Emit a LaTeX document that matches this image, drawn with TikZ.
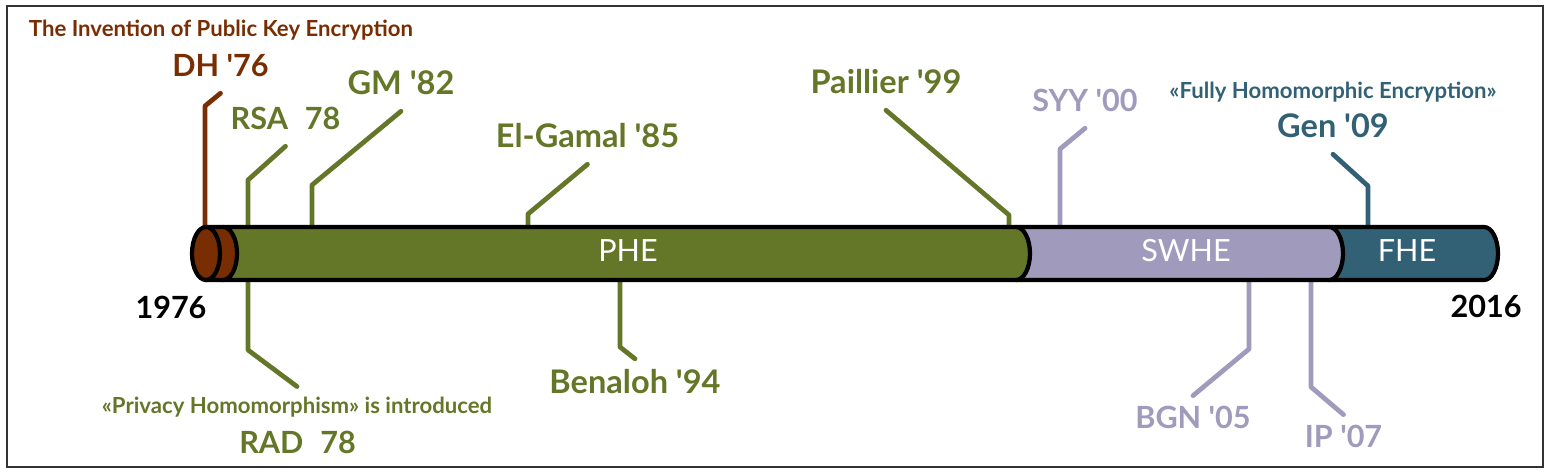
\documentclass[tikz,border=0pt]{standalone}
\usepackage{fontspec}
\setmainfont{Lato}[Ligatures=TeXOff]
\definecolor{dhbrown}{RGB}{120,46,2}
\definecolor{phegreen}{RGB}{100,118,40}
\definecolor{swhelav}{RGB}{160,154,188}
\definecolor{fheteal}{RGB}{50,97,118}
\tikzset{
  biglab/.style={font=\fontsize{8.7}{10}\selectfont\bfseries, inner sep=0pt, anchor=base},
  widelab/.style={biglab, font=\fontsize{9.25}{11}\selectfont\bfseries},
  smalllab/.style={font=\fontsize{6.3}{7.5}\selectfont\bfseries, inner sep=0pt, anchor=base},
  uplab/.style={outer sep=0.17cm},
  downlab/.style={outer sep=0.1cm},
  conn/.style={line width=1.35pt, line cap=round, line join=round},
  seg/.style={draw=black, line width=1.2pt, line join=round},
  segtext/.style={font=\fontsize{8.7}{10}\selectfont, text=white, inner sep=0pt, anchor=base},
}
% one piece of the time bar, right end rounded
\newcommand{\barseg}[3]{%
  \draw[seg, fill=#1] (#2,227) -- (#3,227)
    arc[start angle=-90, end angle=90, x radius=14, y radius=26.5] -- (#2,280) -- cycle;}
\begin{document}
\begin{tikzpicture}[x=0.01cm,y=-0.01cm]
\useasboundingbox (0,0) rectangle (1551,475);
\draw[line width=0.8pt, black!80] (7,6) rectangle (1543,467);

% labels above the bar
\node[smalllab, text=dhbrown] (pke) at (221,36) {The Invention of Public Key Encryption};
\node[biglab, uplab, text=dhbrown] (dh) at (220.5,76) {DH '76};
\node[biglab, uplab, text=phegreen] (rsa) at (285.5,129) {RSA\hspace{0.55em}78};
\node[widelab, uplab, text=phegreen] (gm) at (401,94) {GM '82};
\node[widelab, uplab, text=phegreen] (elgamal) at (587.5,147) {El-Gamal '85};
\node[widelab, uplab, text=phegreen] (paillier) at (886,93) {Paillier '99};
\node[biglab, uplab, text=swhelav] (syy) at (1085,111) {SYY '00};
\node[smalllab, text=fheteal] (fhenote) at (1333,98) {«Fully Homomorphic Encryption»};
\node[widelab, uplab, text=fheteal] (gen) at (1333,137) {Gen '09};

% labels below the bar
\node[smalllab, downlab, text=phegreen] (privacy) at (297,413) {«Privacy Homomorphism» is introduced};
\node[biglab, text=phegreen] (rad) at (297.5,453) {RAD\hspace{0.55em}78};
\node[widelab, downlab, text=phegreen] (benaloh) at (635,393) {Benaloh '94};
\node[biglab, downlab, text=swhelav] (bgn) at (1193,428) {BGN '05};
\node[biglab, downlab, text=swhelav] (ip) at (1343.5,447) {IP '07};
\node[biglab] (ystart) at (171,318) {1976};
\node[biglab] (yend) at (1486,317) {2016};

% points on the bar
\coordinate (pdh) at (205,253);
\coordinate (prsa) at (248,253);
\coordinate (pgm) at (312,253);
\coordinate (pelgamal) at (528,253);
\coordinate (ppaillier) at (1009,253);
\coordinate (psyy) at (1060,253);
\coordinate (pgen) at (1368,253);
\coordinate (prad) at (248,253);
\coordinate (pbenaloh) at (620,253);
\coordinate (pbgn) at (1249,253);
\coordinate (pip) at (1311,253);

\draw[conn, dhbrown] (pdh) -- (205,106) -- (dh.south);
\draw[conn, phegreen] (prsa) -- (248,180) -- (rsa.south);
\draw[conn, phegreen] (pgm) -- (312,185) -- (gm.south);
\draw[conn, phegreen] (pelgamal) -- (528,214) -- (elgamal.south);
\draw[conn, phegreen] (ppaillier) -- (1009,215) -- (paillier.south);
\draw[conn, swhelav] (psyy) -- (1060,149) -- (syy.south);
\draw[conn, fheteal] (pgen) -- (1368,186) -- (gen.south);
\draw[conn, phegreen] (prad) -- (248,350) -- (privacy.north);
\draw[conn, phegreen] (pbenaloh) -- (620,347) -- (benaloh.north);
\draw[conn, swhelav] (pbgn) -- (1249,349) -- (bgn.north);
\draw[conn, swhelav] (pip) -- (1311,387) -- (ip.north);

% the bar, drawn right to left
\barseg{fheteal}{1329}{1484}
\barseg{swhelav}{1016}{1329}
\barseg{phegreen}{223}{1016}
\barseg{dhbrown}{206}{223}
\draw[seg, fill=dhbrown] (206,253.5) ellipse [x radius=14, y radius=26.5];

\node[segtext] (phe) at (628,261) {PHE};
\node[segtext] (swhe) at (1186,261) {SWHE};
\node[segtext] (fhe) at (1407,261) {FHE};
\end{tikzpicture}
\end{document}
